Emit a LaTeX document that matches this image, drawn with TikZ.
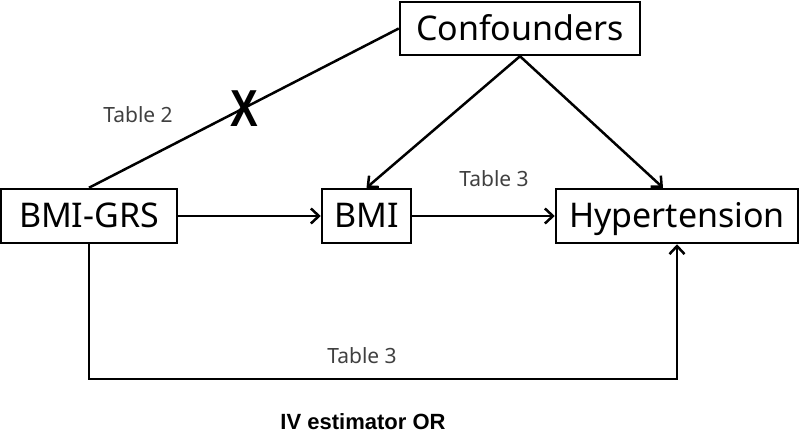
\documentclass[tikz,border=0pt]{standalone}
\usepackage{fontspec}
\setmainfont{Noto Sans}
\newfontfamily\boldsans{Liberation Sans}
\usetikzlibrary{arrows.meta}
\begin{document}
\begin{tikzpicture}[x=1pt,y=-1pt,
  box/.style={draw=black, line width=2.5pt, inner sep=0pt, font=\fontsize{34}{40}\selectfont, text height=24pt, text depth=0pt},
  conn/.style={line width=2.5pt},
  arr/.style={conn, -{Straight Barb[length=8pt,width=15pt,line width=2.5pt]}},
  lbl/.style={font=\fontsize{21}{25}\selectfont, text=black!75, inner sep=0pt, anchor=base}]
\clip (0,0) rectangle (800,435);
\node[box, minimum width=240pt, minimum height=53pt] (conf) at (520,28.5) {Confounders};
\node[box, minimum width=176pt, minimum height=54pt] (grs) at (89,216) {BMI-GRS};
\node[box, minimum width=89pt, minimum height=54pt] (bmi) at (366.5,216) {BMI};
\node[box, minimum width=242pt, minimum height=54pt] (hyp) at (677,216) {Hypertension};
\coordinate (low) at (0,379);
\draw[conn] (grs.north) -- node[pos=0.5, font=\boldsans\bfseries\fontsize{52}{54}\selectfont, inner sep=0pt, xscale=0.8] (x) {X} (conf.west);
\draw[arr] (conf.south) -- (bmi.north);
\draw[arr] (conf.south) -- ([xshift=-14pt]hyp.north);
\draw[arr] (grs.east) -- (bmi.west);
\draw[arr] (bmi.east) -- (hyp.west);
\draw[arr] (grs.south) |- (low -| hyp.south) -- (hyp.south);
\node[lbl] (t2) at (138,123) {Table 2};
\node[lbl] (t3a) at (494,187) {Table 3};
\node[lbl] (t3b) at (362,363) {Table 3};
\node[font=\boldsans\bfseries\fontsize{22}{26}\selectfont, inner sep=0pt, anchor=base, text depth=0pt] (iv) at (363,429) {IV estimator OR};
\end{tikzpicture}
\end{document}
